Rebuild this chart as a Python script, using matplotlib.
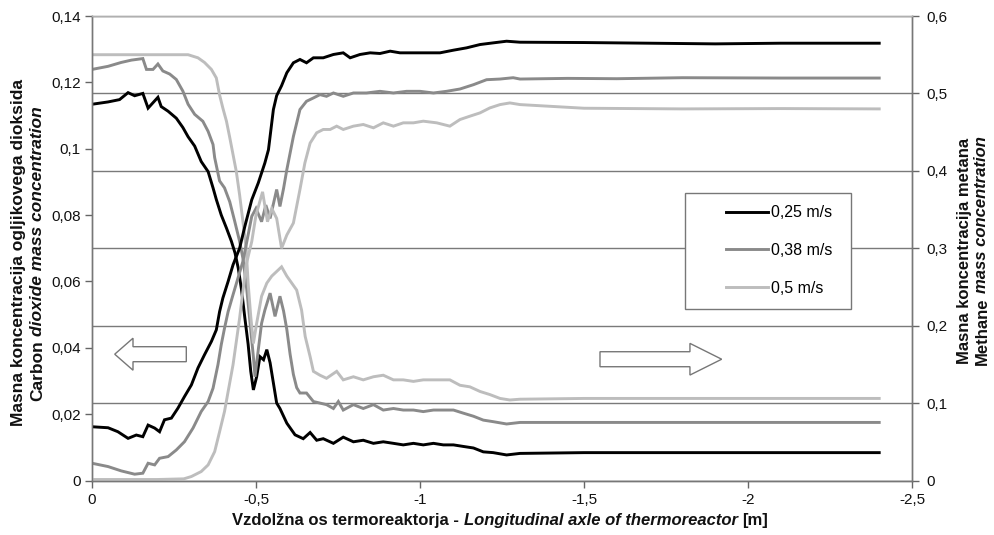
import matplotlib
matplotlib.use('Agg')
import matplotlib.pyplot as plt
from matplotlib.ticker import FuncFormatter
from matplotlib.patches import Rectangle, FancyArrow
from matplotlib.transforms import Bbox

plt.rcParams['font.family'] = ['Liberation Sans', 'DejaVu Sans']

# --- CO2 mass concentration (left axis) ---
co2_x_025 = [0, -0.049, -0.079, -0.110, -0.135, -0.155, -0.171, -0.191, -0.206, -0.221, -0.242,
             -0.262, -0.282, -0.303, -0.323, -0.343, -0.364, -0.379, -0.389, -0.399, -0.415,
             -0.430, -0.440, -0.450, -0.466, -0.487, -0.507, -0.527, -0.538, -0.553, -0.563,
             -0.578, -0.594, -0.614, -0.634, -0.654, -0.675, -0.705, -0.736, -0.766, -0.787,
             -0.817, -0.848, -0.878, -0.909, -0.939, -0.980, -1.020, -1.061, -1.102, -1.142,
             -1.183, -1.223, -1.264, -1.305, -1.5, -1.7, -1.9, -2.1, -2.4]
co2_025 = [0.0162, 0.0159, 0.0147, 0.0127, 0.0137, 0.0132, 0.0167, 0.0158, 0.0147, 0.0183, 0.0188,
           0.0218, 0.0253, 0.0288, 0.0339, 0.0379, 0.0419, 0.0454, 0.0509, 0.0550, 0.0600,
           0.0650, 0.0675, 0.0700, 0.0766, 0.0846, 0.0897, 0.0957, 0.0997, 0.1118, 0.1160,
           0.1190, 0.1229, 0.1259, 0.1269, 0.1259, 0.1274, 0.1274, 0.1284, 0.1289, 0.1274,
           0.1284, 0.1289, 0.1287, 0.1294, 0.1289, 0.1289, 0.1289, 0.1289, 0.1297, 0.1304,
           0.1314, 0.1319, 0.1324, 0.1321, 0.1320, 0.1318, 0.1316, 0.1318, 0.1318]

co2_x_038 = [0, -0.049, -0.089, -0.130, -0.155, -0.171, -0.191, -0.206, -0.232, -0.257, -0.282,
             -0.308, -0.333, -0.354, -0.369, -0.384, -0.394, -0.404, -0.415, -0.430, -0.445,
             -0.460, -0.472, -0.487, -0.500, -0.517, -0.530, -0.543, -0.563, -0.573, -0.584,
             -0.594, -0.614, -0.634, -0.654, -0.675, -0.695, -0.715, -0.736, -0.766, -0.797,
             -0.837, -0.878, -0.919, -0.959, -1.000, -1.041, -1.081, -1.122, -1.163, -1.203,
             -1.244, -1.284, -1.305, -1.45, -1.6, -1.8, -2.1, -2.4]
co2_038 = [0.0052, 0.0042, 0.0029, 0.0019, 0.0022, 0.0052, 0.0047, 0.0067, 0.0072, 0.0092, 0.0117,
           0.0158, 0.0208, 0.0238, 0.0278, 0.0349, 0.0409, 0.0459, 0.0509, 0.0560, 0.0610,
           0.0660, 0.0720, 0.0796, 0.0820, 0.0780, 0.0830, 0.0790, 0.0877, 0.0826, 0.0880,
           0.0937, 0.1037, 0.1118, 0.1143, 0.1153, 0.1163, 0.1158, 0.1168, 0.1158, 0.1168,
           0.1168, 0.1173, 0.1168, 0.1173, 0.1173, 0.1168, 0.1173, 0.1180, 0.1193, 0.1208,
           0.1210, 0.1214, 0.1210, 0.1212, 0.1211, 0.1214, 0.1213, 0.1213]

co2_x_05 = [0, -0.1, -0.2, -0.28, -0.303, -0.333, -0.354, -0.374, -0.389, -0.404, -0.415,
            -0.430, -0.440, -0.450, -0.460, -0.470, -0.487, -0.500, -0.520, -0.535, -0.548,
            -0.563, -0.578, -0.594, -0.614, -0.634, -0.649, -0.665, -0.685, -0.705, -0.726,
            -0.746, -0.766, -0.797, -0.827, -0.858, -0.888, -0.919, -0.949, -0.980, -1.010,
            -1.051, -1.091, -1.122, -1.152, -1.183, -1.213, -1.244, -1.274, -1.305, -1.5,
            -1.8, -2.1, -2.4]
co2_05 = [0.0003, 0.0003, 0.0003, 0.0005, 0.0012, 0.0027, 0.0047, 0.0087, 0.0147, 0.0208, 0.0268,
          0.0349, 0.0419, 0.0489, 0.0570, 0.0650, 0.0720, 0.0800, 0.0870, 0.0780, 0.0820,
          0.0790, 0.0700, 0.0740, 0.0776, 0.0877, 0.0957, 0.1017, 0.1048, 0.1058, 0.1058,
          0.1068, 0.1058, 0.1068, 0.1073, 0.1063, 0.1078, 0.1068, 0.1078, 0.1078, 0.1083,
          0.1078, 0.1068, 0.1088, 0.1098, 0.1108, 0.1123, 0.1133, 0.1138, 0.1133, 0.1122,
          0.1120, 0.1121, 0.1120]

# --- methane mass concentration (right axis) ---
ch4_x_025 = [0, -0.049, -0.084, -0.110, -0.130, -0.155, -0.171, -0.186, -0.201, -0.211, -0.232,
             -0.257, -0.277, -0.293, -0.313, -0.333, -0.354, -0.369, -0.379, -0.394, -0.410,
             -0.425, -0.436, -0.446, -0.456, -0.466, -0.476, -0.484, -0.492, -0.502, -0.512,
             -0.523, -0.533, -0.543, -0.553, -0.563, -0.573, -0.594, -0.619, -0.644, -0.665,
             -0.685, -0.705, -0.736, -0.766, -0.797, -0.827, -0.858, -0.888, -0.919, -0.949,
             -0.980, -1.010, -1.041, -1.071, -1.102, -1.132, -1.163, -1.193, -1.223, -1.264,
             -1.305, -1.5, -1.8, -2.1, -2.4]
ch4_025 = [0.486, 0.489, 0.492, 0.501, 0.497, 0.500, 0.481, 0.488, 0.495, 0.483, 0.477,
           0.468, 0.456, 0.444, 0.432, 0.412, 0.399, 0.378, 0.363, 0.343, 0.326,
           0.309, 0.294, 0.274, 0.246, 0.210, 0.176, 0.141, 0.117, 0.134, 0.160,
           0.156, 0.169, 0.152, 0.126, 0.100, 0.093, 0.074, 0.059, 0.054, 0.062,
           0.052, 0.054, 0.048, 0.056, 0.050, 0.052, 0.048, 0.050, 0.048, 0.046,
           0.048, 0.046, 0.048, 0.046, 0.046, 0.044, 0.042, 0.037, 0.036, 0.033,
           0.035, 0.036, 0.036, 0.036, 0.036]

ch4_x_038 = [0, -0.049, -0.089, -0.120, -0.155, -0.166, -0.186, -0.201, -0.216, -0.237, -0.257,
             -0.277, -0.293, -0.313, -0.338, -0.354, -0.369, -0.374, -0.389, -0.404, -0.420,
             -0.435, -0.450, -0.461, -0.472, -0.482, -0.492, -0.497, -0.507, -0.517, -0.527,
             -0.543, -0.558, -0.573, -0.584, -0.594, -0.604, -0.614, -0.624, -0.634, -0.654,
             -0.675, -0.695, -0.715, -0.736, -0.751, -0.766, -0.797, -0.827, -0.858, -0.888,
             -0.919, -0.949, -0.980, -1.010, -1.041, -1.071, -1.102, -1.132, -1.163, -1.193,
             -1.223, -1.264, -1.305, -1.5, -1.8, -2.1, -2.4]
ch4_038 = [0.531, 0.535, 0.540, 0.543, 0.545, 0.531, 0.531, 0.538, 0.529, 0.525, 0.518,
           0.503, 0.486, 0.473, 0.464, 0.451, 0.434, 0.417, 0.387, 0.378, 0.360,
           0.335, 0.309, 0.285, 0.246, 0.203, 0.160, 0.134, 0.169, 0.203, 0.220,
           0.242, 0.212, 0.238, 0.219, 0.195, 0.163, 0.137, 0.120, 0.113, 0.113,
           0.102, 0.100, 0.098, 0.093, 0.102, 0.091, 0.098, 0.093, 0.098, 0.091,
           0.093, 0.091, 0.091, 0.089, 0.091, 0.091, 0.091, 0.087, 0.083, 0.078,
           0.076, 0.073, 0.075, 0.075, 0.075, 0.075, 0.075]

ch4_x_05 = [0, -0.1, -0.2, -0.293, -0.323, -0.343, -0.364, -0.379, -0.389, -0.399, -0.410,
            -0.420, -0.430, -0.440, -0.450, -0.460, -0.470, -0.476, -0.484, -0.492, -0.502,
            -0.517, -0.533, -0.548, -0.568, -0.578, -0.594, -0.609, -0.624, -0.639, -0.650,
            -0.665, -0.675, -0.695, -0.715, -0.746, -0.766, -0.797, -0.827, -0.858, -0.888,
            -0.919, -0.949, -0.980, -1.010, -1.041, -1.071, -1.091, -1.122, -1.152, -1.183,
            -1.213, -1.244, -1.274, -1.305, -1.5, -1.8, -2.1, -2.4]
ch4_05 = [0.550, 0.550, 0.550, 0.550, 0.546, 0.540, 0.531, 0.520, 0.498, 0.481, 0.464,
          0.443, 0.421, 0.399, 0.369, 0.335, 0.300, 0.255, 0.212, 0.177, 0.203,
          0.238, 0.255, 0.264, 0.272, 0.276, 0.264, 0.255, 0.246, 0.220, 0.186,
          0.160, 0.141, 0.136, 0.132, 0.141, 0.130, 0.134, 0.130, 0.134, 0.136,
          0.130, 0.130, 0.128, 0.130, 0.130, 0.130, 0.130, 0.123, 0.121, 0.115,
          0.111, 0.106, 0.104, 0.105, 0.106, 0.106, 0.106, 0.106]

speeds = ['0,25 m/s', '0,38 m/s', '0,5 m/s']
colors = ['#000000', '#8a8a8a', '#bdbdbd']

x_ticks = [0, -0.5, -1, -1.5, -2, -2.5]
left_ticks = [0, 0.02, 0.04, 0.06, 0.08, 0.1, 0.12, 0.14]
right_ticks = [0, 0.1, 0.2, 0.3, 0.4, 0.5, 0.6]

W, H = 994, 535
fig = plt.figure(figsize=(W / 100, H / 100), dpi=100)
ax = fig.add_axes([92 / W, (H - 480.5) / H, 820 / W, 464.5 / H])
ax2 = ax.twinx()
ax.set_zorder(ax2.get_zorder() + 1)
ax.patch.set_visible(False)

comma = FuncFormatter(lambda v, p: ('%g' % round(v, 3)).replace('.', ','))

lw = 2.1
ch4_sets = [(ch4_x_025, ch4_025), (ch4_x_038, ch4_038), (ch4_x_05, ch4_05)]
co2_sets = [(co2_x_025, co2_025), (co2_x_038, co2_038), (co2_x_05, co2_05)]
handles = []
for (xs, ys), c in zip(ch4_sets, colors):
    ax2.plot(xs, ys, color=c, lw=lw, solid_joinstyle='miter')
for (xs, ys), c, lab in zip(co2_sets, colors, speeds):
    h, = ax.plot(xs, ys, color=c, lw=lw, label=lab, solid_joinstyle='miter')
    handles.append(h)

ax.set_xlim(0, -2.5)
ax.set_ylim(0, 0.14)
ax2.set_ylim(0, 0.6)
ax.set_xticks(x_ticks)
ax.set_yticks(left_ticks)
ax2.set_yticks(right_ticks)
for a in (ax, ax2):
    a.xaxis.set_major_formatter(comma)
    a.yaxis.set_major_formatter(comma)
    a.tick_params(labelsize=11, length=5, width=1, color='#666666', labelcolor='#111111')
ax.tick_params(axis='x', pad=4)
ax.tick_params(axis='y', pad=3)
ax2.tick_params(axis='y', pad=5)
ax2.grid(axis='y', color='#7a7a7a', lw=1)
for a in (ax, ax2):
    for s in a.spines.values():
        s.set_color('#777777')
        s.set_linewidth(1)
    a.spines['top'].set_color('#b0b0b0')

# legend box and entries
ax.add_patch(Rectangle((0.7232, 0.3692), 0.2024, 0.2497, transform=ax.transAxes,
                       facecolor='white', edgecolor='#777777', lw=1, zorder=5))
ax.legend(handles=handles, loc='upper left', bbox_to_anchor=(0.7634, 0.610),
          frameon=False, borderpad=0, handlelength=2.6, handletextpad=0.2,
          labelspacing=1.42, fontsize=11.5).set_zorder(6)

# hollow arrows
ax.add_patch(FancyArrow(0.1150, 0.2719, -0.0873, 0, width=0.0323, head_width=0.0689,
                        head_length=0.0223, length_includes_head=True, transform=ax.transAxes,
                        facecolor='white', edgecolor='#777777', lw=1, zorder=5))
ax.add_patch(FancyArrow(0.6195, 0.2611, 0.1484, 0, width=0.0323, head_width=0.0682,
                        head_length=0.0387, length_includes_head=True, transform=ax.transAxes,
                        facecolor='white', edgecolor='#777777', lw=1, zorder=5))


def chain_text(parts, cx, cy, rotation=0, size=12, gap=3.2):
    # parts drawn one after another, then the whole group is centred on (cx, cy) pixels
    ha, va = ('center', 'bottom') if rotation else ('left', 'bottom')
    first = fig.text(cx / W, 1 - cy / H, parts[0][0], rotation=rotation, ha=ha, va=va,
                     fontsize=size, fontweight='bold', fontstyle=parts[0][1], color='#111111')
    texts = [first]
    for s, style in parts[1:]:
        if rotation:
            t = ax.annotate(s, xy=(0.5, 1), xycoords=texts[-1], xytext=(0, gap),
                            textcoords='offset points', rotation=rotation, ha='center', va='bottom',
                            fontsize=size, fontweight='bold', fontstyle=style, color='#111111',
                            annotation_clip=False)
        else:
            t = ax.annotate(s, xy=(1, 0), xycoords=texts[-1], xytext=(gap, 0),
                            textcoords='offset points', ha='left', va='bottom',
                            fontsize=size, fontweight='bold', fontstyle=style, color='#111111',
                            annotation_clip=False)
        texts.append(t)
    fig.canvas.draw()
    r = fig.canvas.get_renderer()
    bb = Bbox.union([t.get_window_extent(r) for t in texts])
    dx = cx - (bb.x0 + bb.x1) / 2
    dy = (H - cy) - (bb.y0 + bb.y1) / 2
    px, py = first.get_position()
    first.set_position((px + dx / W, py + dy / H))


chain_text([('Masna koncentracija ogljikovega dioksida', 'normal')], 18.5, 252, rotation=90, size=12.5)
chain_text([('Carbon', 'normal'), ('dioxide mass concentration', 'italic')], 37.5, 254, rotation=90, size=12.5)
chain_text([('Masna koncentracija metana', 'normal')], 965, 251, rotation=90)
chain_text([('Methane', 'normal'), ('mass concentration', 'italic')], 982, 251, rotation=90)
chain_text([('Vzdolžna os termoreaktorja -', 'normal'),
            ('Longitudinal axle of thermoreactor', 'italic'), ('[m]', 'normal')], 500, 521)

fig.savefig('out.png', dpi=100)
